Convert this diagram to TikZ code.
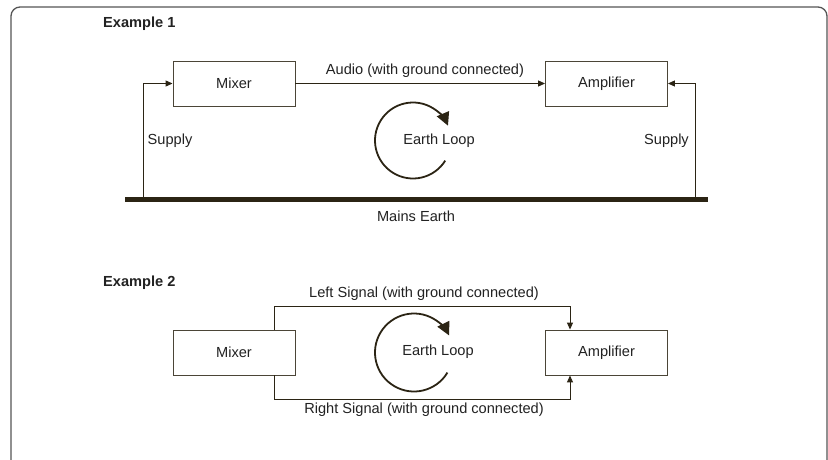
\documentclass[tikz,border=0pt]{standalone}
\usepackage{fontspec}
\setmainfont{Liberation Sans}
\usetikzlibrary{arrows.meta,calc}
\definecolor{ink}{HTML}{2B2414}
\definecolor{txt}{HTML}{222222}
\definecolor{frame}{HTML}{555555}
\tikzset{
  x=1pt, y=1pt,
  blk/.style={draw=ink!85, line width=0.9pt, minimum width=122pt, minimum height=45pt,
    inner sep=0pt, text=txt, font=\fontsize{14.6}{17}\selectfont},
  lbl/.style={text=txt, font=\fontsize{14.6}{17}\selectfont, inner sep=0pt},
  title/.style={text=txt, font=\fontsize{14.6}{17}\selectfont\bfseries, inner sep=0pt, anchor=west},
  wire/.style={draw=ink, line width=1pt, -{Triangle[length=7pt,width=6pt]}},
  loop/.style={draw=ink, line width=1.8pt, -{Triangle[length=13pt,width=13pt]}},
  earthbar/.style={draw=ink, line width=4.5pt},
}
\begin{document}
\begin{tikzpicture}
\useasboundingbox (0,0) rectangle (828,-459);
\fill[white] (0,0) rectangle (828,-459);
% outer frame
\draw[frame, line width=1.3pt, rounded corners=9pt] (11,-7) rectangle (827,-490);

% ---------- Example 1 ----------
\node[title] (t1) at (103,-24) {Example 1};
\node[blk] (mix1) at (234,-83.5) {Mixer};
\node[blk] (amp1) at (606.5,-83.5) {Amplifier};
\coordinate (g1l) at (125,-199.5);
\coordinate (g1r) at (708,-199.5);
\coordinate (s1l) at (143.5,-199.5);
\coordinate (s1r) at (695.5,-199.5);
\draw[earthbar] (g1l) -- (g1r);
\draw[wire] (s1l) |- (mix1.west);
\draw[wire] (s1r) |- (amp1.east);
\draw[wire] (mix1.east) -- (amp1.west);
\node[lbl] (audio) at (425,-70.5) {Audio (with ground connected)};
\node[lbl, anchor=west] (supl) at (147.5,-140.5) {Supply};
\node[lbl, anchor=east] (supr) at (689,-140.5) {Supply};
\node[lbl] (mains) at (416,-216) {Mains Earth};
\coordinate (c1) at (413,-140.5);
\draw[loop] ($(c1)+(-32:38)$) arc[start angle=-32, end angle=-337, radius=38];
\node[lbl] (el1) at (439,-141) {Earth Loop};

% ---------- Example 2 ----------
\node[title] (t2) at (103,-283) {Example 2};
\node[blk] (mix2) at (234,-352.5) {Mixer};
\node[blk] (amp2) at (606.5,-352.5) {Amplifier};
\coordinate (top2) at (274,-306);
\coordinate (bot2) at (274,-399);
\coordinate (col2) at (570,0);
\draw[wire] (mix2.north -| top2) -- (top2) -| (amp2.north -| col2);
\draw[wire] (mix2.south -| bot2) -- (bot2) -| (amp2.south -| col2);
\node[lbl] (lsig) at (424,-294) {Left Signal (with ground connected)};
\node[lbl] (rsig) at (424,-410) {Right Signal (with ground connected)};
\coordinate (c2) at (414,-352.5);
\draw[loop] ($(c2)+(-31:39)$) arc[start angle=-31, end angle=-334, radius=39];
\node[lbl] (el2) at (438,-352) {Earth Loop};
\end{tikzpicture}
\end{document}
